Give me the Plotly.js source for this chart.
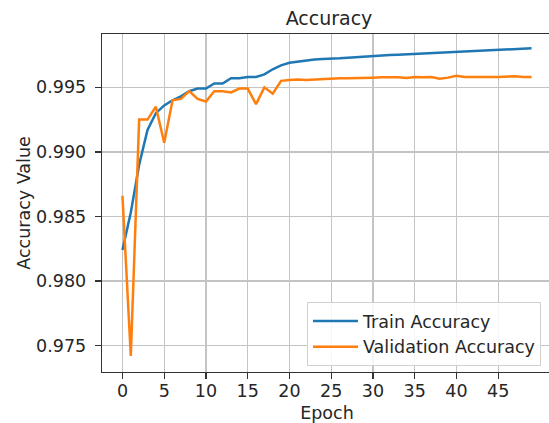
<!DOCTYPE html>
<html>
<head>
<meta charset="utf-8">
<script src="https://cdn.plot.ly/plotly-3.0.1.min.js"></script>
<style>html,body{margin:0;padding:0;overflow:hidden;background:#fff;}#chart{width:554px;height:423px;}</style>
</head>
<body>
<div id="chart"></div>
<script>
const epochs = Array.from({length: 50}, (_, i) => i);
const trainAccuracy = [
  0.9824, 0.9853, 0.9890, 0.9917, 0.9930, 0.9936, 0.9940, 0.9943, 0.9947, 0.9949,
  0.9949, 0.9953, 0.9953, 0.9957, 0.9957, 0.9958, 0.9958, 0.9960, 0.9964, 0.9967,
  0.9969, 0.9970, 0.9971, 0.99715, 0.9972, 0.9972, 0.99725, 0.9973, 0.99735, 0.9974,
  0.9974, 0.99745, 0.9975, 0.99752, 0.99755, 0.99758, 0.9976, 0.99765, 0.9977, 0.99772,
  0.99775, 0.99778, 0.9978, 0.99784, 0.99787, 0.9979, 0.99793, 0.99796, 0.99799, 0.99802
];
const valAccuracy = [
  0.9866, 0.9742, 0.9925, 0.9925, 0.9935, 0.9907, 0.9940, 0.9941, 0.9947, 0.9941,
  0.9939, 0.9947, 0.9947, 0.9946, 0.9949, 0.9949, 0.9937, 0.9950, 0.9945, 0.9955,
  0.99557, 0.9956, 0.99557, 0.9956, 0.99565, 0.9957, 0.9957, 0.9957, 0.9957, 0.99572,
  0.99575, 0.99578, 0.9958, 0.99578, 0.99572, 0.9958, 0.99578, 0.9958, 0.99567, 0.99575,
  0.9959, 0.9958, 0.9958, 0.99578, 0.9958, 0.9958, 0.99582, 0.99585, 0.9958, 0.9958
];
const xTickVals = [0, 5, 10, 15, 20, 25, 30, 35, 40, 45];
const yTickVals = [0.975, 0.980, 0.985, 0.990, 0.995];
const seriesNames = ['Train Accuracy', 'Validation Accuracy'];

const font = 'DejaVu Sans, sans-serif';
const txt = '#262626';
const fs = 17.5;

const traces = [
  {x: epochs, y: trainAccuracy, name: seriesNames[0], mode: 'lines', type: 'scatter',
   line: {color: '#1f77b4', width: 2.5}},
  {x: epochs, y: valAccuracy, name: seriesNames[1], mode: 'lines', type: 'scatter',
   line: {color: '#ff7f0e', width: 2.5}}
];

const layout = {
  width: 554, height: 423,
  margin: {l: 102, r: 2, t: 34, b: 51, pad: 0},
  paper_bgcolor: '#fff', plot_bgcolor: '#fff',
  font: {family: font, size: fs, color: txt},
  title: {text: 'Accuracy', font: {family: font, size: 19, color: txt},
          x: 329/554, xanchor: 'center', y: 1 - 18/423, yanchor: 'middle', yref: 'container'},
  xaxis: {
    range: [-2.45, 51.45], tickvals: xTickVals, ticktext: xTickVals.map(String),
    showgrid: true, gridcolor: '#c4c4c4', gridwidth: 1.3,
    zeroline: false, showline: true, mirror: true, linecolor: '#333', linewidth: 1.3,
    ticks: 'outside', ticklen: 6, tickwidth: 1.3, tickcolor: '#333',
    ticklabelstandoff: -3,
    tickfont: {family: font, size: fs, color: txt},
    title: {text: 'Epoch', font: {family: font, size: fs, color: txt}, standoff: 8}
  },
  yaxis: {
    range: [0.97295, 0.99913], tickvals: yTickVals, tickformat: '.3f',
    showgrid: true, gridcolor: '#c4c4c4', gridwidth: 1.3,
    zeroline: false, showline: true, mirror: true, linecolor: '#333', linewidth: 1.3,
    ticks: 'outside', ticklen: 6, tickwidth: 1.3, tickcolor: '#333',
    ticklabelstandoff: 5,
    tickfont: {family: font, size: fs, color: txt},
    title: {text: 'Accuracy Value', font: {family: font, size: fs, color: txt}, standoff: 1}
  },
  legend: {
    x: (541 - 102) / 450, xanchor: 'right', y: (372 - 366) / 338, yanchor: 'bottom',
    itemwidth: 45,
    bgcolor: 'rgba(255,255,255,0.85)', bordercolor: '#d0d0d0', borderwidth: 1,
    font: {family: font, size: fs, color: txt}
  },
  showlegend: true
};

Plotly.newPlot('chart', traces, layout, {staticPlot: true, displayModeBar: false});
</script>
</body>
</html>
